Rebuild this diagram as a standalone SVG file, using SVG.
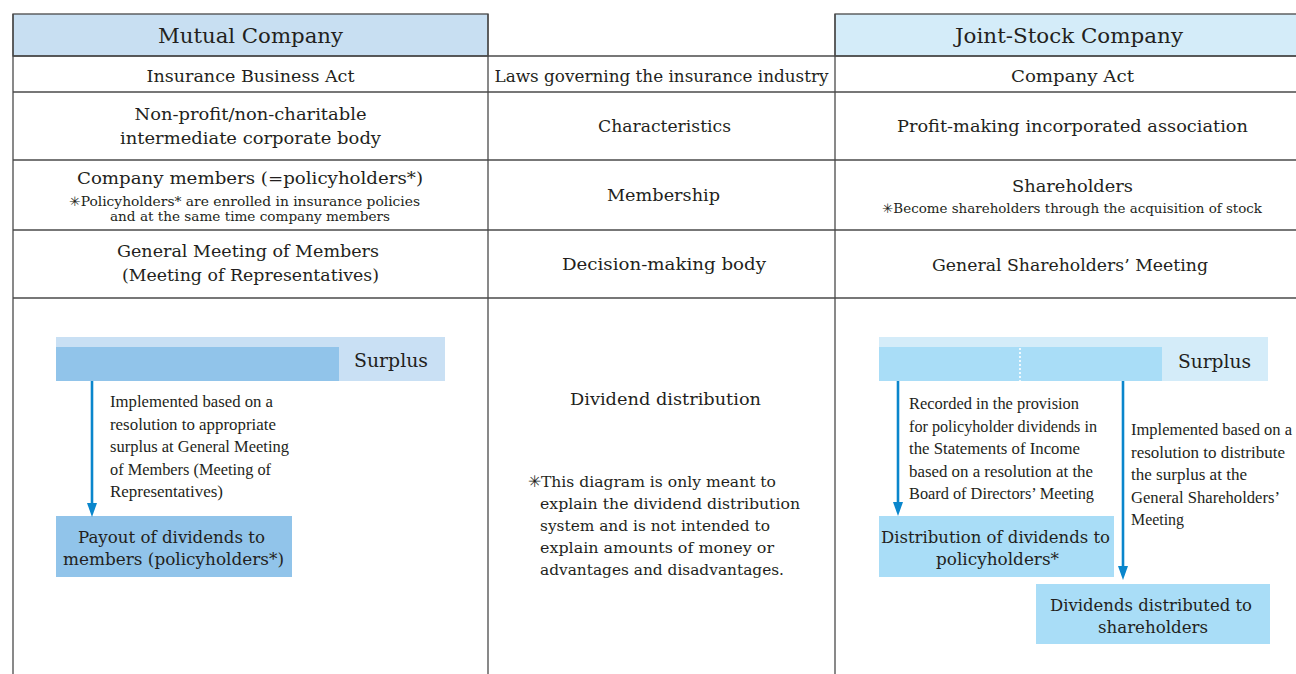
<svg xmlns="http://www.w3.org/2000/svg" width="1296" height="674" viewBox="0 0 1296 674">
<defs>
<style>
.grid{stroke:#4a4a4a;stroke-width:1.3;fill:none}
.hm{stroke:#4a4a4a;stroke-width:1.3;fill:#c8dff2}
.hj{stroke:#4a4a4a;stroke-width:1.3;fill:#d4ecf9}
.t{font-family:"DejaVu Serif","Liberation Serif",serif;fill:#231f20;font-size:17px}
.c{text-anchor:middle}
.h{font-size:20px}
.s{font-size:13px}
.sp{font-size:19px}
.a{font-family:"Liberation Serif","DejaVu Serif",serif;font-size:16.8px}
.n{font-size:15.7px}
.arr{stroke:#0a86cc;stroke-width:2.6;fill:none;marker-end:url(#ah)}
</style>
<marker id="ah" viewBox="0 0 14 10" refX="6" refY="5" markerWidth="14" markerHeight="10" markerUnits="userSpaceOnUse" orient="auto">
<path d="M0,0 L14,5 L0,10 z" fill="#0a86cc"/>
</marker>
</defs>
<rect width="1296" height="674" fill="#ffffff"/>

<g id="table">
<rect x="13" y="14" width="475" height="42" class="hm"/>
<rect x="835" y="14" width="470" height="42" class="hj"/>
<line class="grid" x1="13" y1="56" x2="1296" y2="56"/>
<line class="grid" x1="13" y1="92" x2="1296" y2="92"/>
<line class="grid" x1="13" y1="160" x2="1296" y2="160"/>
<line class="grid" x1="13" y1="230" x2="1296" y2="230"/>
<line class="grid" x1="13" y1="298" x2="1296" y2="298"/>
<line class="grid" x1="13" y1="14" x2="13" y2="674"/>
<line class="grid" x1="488" y1="14" x2="488" y2="674"/>
<line class="grid" x1="835" y1="14" x2="835" y2="674"/>
</g>

<g id="header-mutual">
<text class="t c h" x="250.5" y="43" textLength="185" lengthAdjust="spacingAndGlyphs">Mutual Company</text>
</g>
<g id="header-joint">
<text class="t c h" x="1069" y="43" textLength="228" lengthAdjust="spacingAndGlyphs">Joint-Stock Company</text>
</g>

<g id="row-law">
<text class="t c" x="250.5" y="82" textLength="208" lengthAdjust="spacingAndGlyphs">Insurance Business Act</text>
<text class="t c" x="661.5" y="82" textLength="334" lengthAdjust="spacingAndGlyphs">Laws governing the insurance industry</text>
<text class="t c" x="1072.5" y="82" textLength="123" lengthAdjust="spacingAndGlyphs">Company Act</text>
</g>

<g id="row-characteristics">
<text class="t c" x="250.5" y="120" textLength="232" lengthAdjust="spacingAndGlyphs">Non-profit/non-charitable</text>
<text class="t c" x="250.5" y="144" textLength="261" lengthAdjust="spacingAndGlyphs">intermediate corporate body</text>
<text class="t c" x="664.5" y="132" textLength="133" lengthAdjust="spacingAndGlyphs">Characteristics</text>
<text class="t c" x="1072.5" y="132" textLength="351" lengthAdjust="spacingAndGlyphs">Profit-making incorporated association</text>
</g>

<g id="row-membership">
<text class="t c" x="250" y="184" textLength="346" lengthAdjust="spacingAndGlyphs">Company members (=policyholders*)</text>
<text class="t c s" x="244.5" y="206" textLength="351" lengthAdjust="spacingAndGlyphs">✳Policyholders* are enrolled in insurance policies</text>
<text class="t c s" x="250" y="221" textLength="280" lengthAdjust="spacingAndGlyphs">and at the same time company members</text>
<text class="t c" x="663.5" y="201" textLength="113" lengthAdjust="spacingAndGlyphs">Membership</text>
<text class="t c" x="1072.5" y="192" textLength="121" lengthAdjust="spacingAndGlyphs">Shareholders</text>
<text class="t c s" x="1072" y="213" textLength="380" lengthAdjust="spacingAndGlyphs">✳Become shareholders through the acquisition of stock</text>
</g>

<g id="row-decision">
<text class="t c" x="248" y="257" textLength="262" lengthAdjust="spacingAndGlyphs">General Meeting of Members</text>
<text class="t c" x="250.5" y="281" textLength="257" lengthAdjust="spacingAndGlyphs">(Meeting of Representatives)</text>
<text class="t c" x="664" y="270" textLength="204" lengthAdjust="spacingAndGlyphs">Decision-making body</text>
<text class="t c" x="1070" y="271" textLength="276" lengthAdjust="spacingAndGlyphs">General Shareholders’ Meeting</text>
</g>

<g id="dividend-label">
<text class="t c" x="665.5" y="405" style="font-size:17.5px" textLength="191" lengthAdjust="spacingAndGlyphs">Dividend distribution</text>
</g>
<g id="note">
<text class="t n" x="528" y="487" textLength="248" lengthAdjust="spacingAndGlyphs">✳This diagram is only meant to</text>
<text class="t n" x="540" y="509" textLength="260" lengthAdjust="spacingAndGlyphs">explain the dividend distribution</text>
<text class="t n" x="540" y="531" textLength="230" lengthAdjust="spacingAndGlyphs">system and is not intended to</text>
<text class="t n" x="540" y="553" textLength="234" lengthAdjust="spacingAndGlyphs">explain amounts of money or</text>
<text class="t n" x="540" y="575" textLength="244" lengthAdjust="spacingAndGlyphs">advantages and disadvantages.</text>
</g>

<g id="surplus-mutual">
<rect x="56" y="337" width="389" height="44" fill="#c9e0f4"/>
<rect x="56" y="347" width="283" height="34" fill="#91c4ea"/>
<text class="t c sp" x="391" y="367" textLength="74" lengthAdjust="spacingAndGlyphs">Surplus</text>
</g>

<g id="payout-mutual">
<rect x="56" y="516" width="236" height="61" fill="#91c4ea"/>
<text class="t c" x="171.5" y="542.5" textLength="187" lengthAdjust="spacingAndGlyphs">Payout of dividends to</text>
<text class="t c" x="173.5" y="565" textLength="221" lengthAdjust="spacingAndGlyphs">members (policyholders*)</text>
</g>

<g id="note-mutual">
<text class="t a" x="110" y="407" textLength="163" lengthAdjust="spacingAndGlyphs">Implemented based on a</text>
<text class="t a" x="110" y="429.6" textLength="166" lengthAdjust="spacingAndGlyphs">resolution to appropriate</text>
<text class="t a" x="110" y="452.2" textLength="179" lengthAdjust="spacingAndGlyphs">surplus at General Meeting</text>
<text class="t a" x="110" y="474.8" textLength="161" lengthAdjust="spacingAndGlyphs">of Members (Meeting of</text>
<text class="t a" x="110" y="497.4" textLength="113" lengthAdjust="spacingAndGlyphs">Representatives)</text>
</g>

<g id="surplus-joint">
<rect x="879" y="337" width="389" height="44" fill="#d4ecf9"/>
<rect x="879" y="347" width="283" height="34" fill="#a9ddf7"/>
<line x1="1020" y1="348" x2="1020" y2="381" stroke="#ffffff" stroke-width="1.6" stroke-dasharray="2 2"/>
<text class="t c sp" x="1214.5" y="367.5" textLength="73" lengthAdjust="spacingAndGlyphs">Surplus</text>
</g>

<g id="policyholder-dividends">
<rect x="879" y="516" width="235" height="61" fill="#a9ddf7"/>
<text class="t c" x="995.5" y="542.5" textLength="229" lengthAdjust="spacingAndGlyphs">Distribution of dividends to</text>
<text class="t c" x="997.5" y="565" textLength="123" lengthAdjust="spacingAndGlyphs">policyholders*</text>
</g>

<g id="shareholder-dividends">
<rect x="1036" y="584" width="234" height="60" fill="#a9ddf7"/>
<text class="t c" x="1151" y="610.5" textLength="202" lengthAdjust="spacingAndGlyphs">Dividends distributed to</text>
<text class="t c" x="1153" y="633" textLength="110" lengthAdjust="spacingAndGlyphs">shareholders</text>
</g>

<g id="note-joint-1">
<text class="t a" x="909" y="409" textLength="170" lengthAdjust="spacingAndGlyphs">Recorded in the provision</text>
<text class="t a" x="909" y="431.6" textLength="188" lengthAdjust="spacingAndGlyphs">for policyholder dividends in</text>
<text class="t a" x="909" y="454.2" textLength="171" lengthAdjust="spacingAndGlyphs">the Statements of Income</text>
<text class="t a" x="909" y="476.8" textLength="184" lengthAdjust="spacingAndGlyphs">based on a resolution at the</text>
<text class="t a" x="909" y="499.4" textLength="185" lengthAdjust="spacingAndGlyphs">Board of Directors’ Meeting</text>
</g>

<g id="note-joint-2">
<text class="t a" x="1131" y="435" textLength="161" lengthAdjust="spacingAndGlyphs">Implemented based on a</text>
<text class="t a" x="1131" y="457.5" textLength="154" lengthAdjust="spacingAndGlyphs">resolution to distribute</text>
<text class="t a" x="1131" y="480" textLength="116" lengthAdjust="spacingAndGlyphs">the surplus at the</text>
<text class="t a" x="1131" y="502.5" textLength="149" lengthAdjust="spacingAndGlyphs">General Shareholders’</text>
<text class="t a" x="1131" y="525" textLength="53" lengthAdjust="spacingAndGlyphs">Meeting</text>
</g>

<g id="connectors">
<line class="arr" x1="92" y1="381" x2="92" y2="509"/>
<line class="arr" x1="898" y1="381" x2="898" y2="508"/>
<line class="arr" x1="1123" y1="381" x2="1123" y2="572"/>
</g>
</svg>
